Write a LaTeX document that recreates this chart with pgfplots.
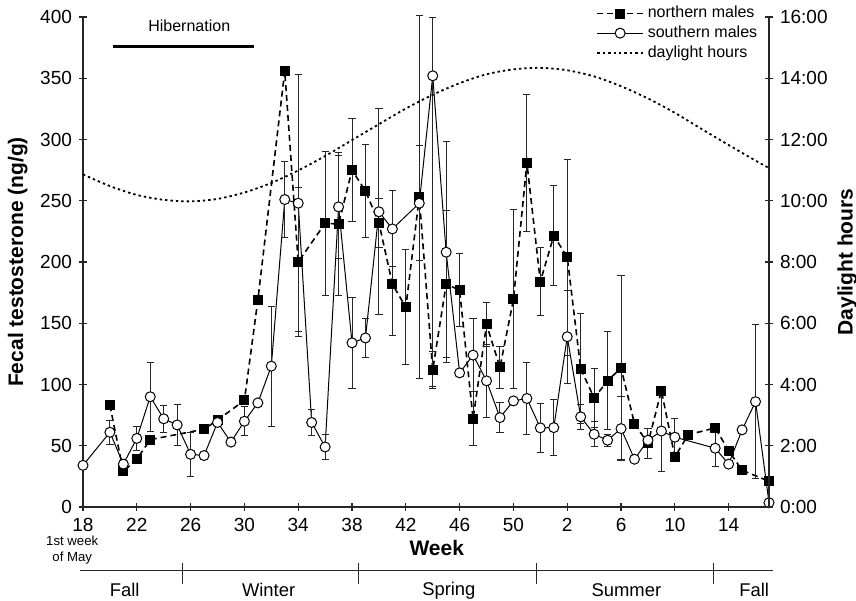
\documentclass[border=0pt]{standalone}
\usepackage{fontspec}
\setmainfont{Liberation Sans}
\usepackage{pgfplots}
\pgfplotsset{compat=1.18}

\begin{document}
\begin{tikzpicture}
\tikzset{season/.style={font=\fontsize{9.2}{11}\selectfont}}
\pgfplotsset{
  common/.style={
    scale only axis, width=343pt, height=245pt,
    xmin=18, xmax=69,
    clip=false,
    axis line style={-, black!85, line width=0.6pt},
    tick style={black!85, line width=0.6pt},
    tick align=center, major tick length=4pt,
    ticklabel style={font=\fontsize{9.5}{11}\selectfont},
    /pgf/number format/assume math mode=true,
    label style={font=\bfseries\fontsize{10.5}{12}\selectfont},
  },
  ebar/.style={error bars/.cd, y dir=both, y explicit,
    error bar style={solid, line width=0.5pt, black!85},
    error mark options={rotate=90, mark size=1.8pt, line width=0.5pt, black!85}},
}
% weeks 1-16 of the second year are plotted as 53-68
\begin{axis}[common,
  axis x line*=bottom, axis y line*=left,
  ymin=0, ymax=400, ytick={0,50,...,400},
  xtick={18,22,...,66},
  xticklabels={18,22,26,30,34,38,42,46,50,2,6,10,14},
  ylabel={Fecal testosterone (ng/g)},
  ylabel style={at={(axis description cs:-0.095,0.5)}, anchor=center},
  legend style={draw=none, fill=none, at={(axis description cs:0.745,1.035)},
    anchor=north west, font=\fontsize{8}{9.5}\selectfont, row sep=-1.5pt,
    inner sep=1pt, cells={anchor=west}},
  legend image code/.code={\draw[mark repeat=2,mark phase=2,#1]
    plot coordinates {(0cm,0cm) (0.4cm,0cm) (0.8cm,0cm)};},
]
% northern males
\addplot[black, line width=0.8pt, dash pattern=on 3pt off 2pt,
  mark=square*, mark size=2.1pt, mark options={solid, fill=black}, ebar]
coordinates {
(20,83) (21,29) (22,39) (23,55) (27,63.5) (28,71) (30,87) (31,169) (33,356)
(34,200) +- (0,61) (36,231.6) +- (0,59) (37,231) +- (0,58) (38,275) +- (0,42)
(39,258) +- (0,38) (40,232) +- (0,20) (41,182) +- (0,42) (42,163) +- (0,47)
(43,253) +- (0,148) (44,112) +- (0,15) (45,182) +- (0,60) (46,177) +- (0,30)
(47,72) +- (0,22) (48,149) +- (0,18) (49,114) +- (0,17) (50,169.5) +- (0,73)
(51,281) +- (0,56) (52,184) +- (0,28) (53,221.5) +- (0,41) (54,204) +- (0,80)
(55,113) +- (0,45) (56,89) +- (0,24) (57,103) +- (0,40) (58,113.6) +- (0,75)
(59,68) (60,52) +- (0,12) (61,95) (62,41) (63,59) (65,64.6) (66,46) (67,30) (69,21)
};
\addlegendentry{northern males}
% southern males
\addplot[black, line width=0.5pt,
  mark=*, mark size=2.5pt, mark options={solid, fill=white, draw=black}, ebar]
coordinates {
(18,34) (20,61) +- (0,10) (21,35) +- (0,3) (22,56) +- (0,10) (23,90) +- (0,28)
(24,72) +- (0,11) (25,67) +- (0,17) (26,43) +- (0,18) (27,42) (28,69) (29,53)
(30,70) +- (0,12) (31,85) (32,115) +- (0,49) (33,251) +- (0,31) (34,248) +- (0,105)
(35,69) +- (0,11) (36,49) +- (0,10) (37,245) +- (0,42) (38,134) +- (0,37)
(39,138) +- (0,16) (40,241) +- (0,84) (41,227) +- (0,31) (43,248) +- (0,47)
(44,352) += (0,48) -= (0,254) (45,208) +- (0,90) (46,109.5) (47,124) +- (0,30)
(48,103) +- (0,30) (49,73) +- (0,12) (50,86.6) (51,88.6) +- (0,29.5)
(52,64.6) +- (0,20) (53,64.8) +- (0,23) (54,139) +- (0,38) (55,73.6) +- (0,10)
(56,59.4) +- (0,10) (57,54.5) +- (0,5) (58,64) +- (0,26) (59,39) (60,54.5)
(61,62) +- (0,33) (62,57) +- (0,15) (65,48) +- (0,15) (66,35) +- (0,3) (67,63)
(68,86) +- (0,63) (69,3.5)
};
\addlegendentry{southern males}
\addlegendimage{black, line width=0.9pt, dash pattern=on 1.2pt off 1.5pt}
\addlegendentry{daylight hours}

% hibernation bar
\draw[line width=1.5pt] (axis cs:20.2,376) -- (axis cs:30.7,376);
\node[font=\fontsize{8}{9.5}\selectfont] at (axis cs:25.9,393) {Hibernation};

% x annotations
\node[font=\bfseries\fontsize{10.5}{12}\selectfont] at (axis cs:44.3,-33.5) {Week};
\node[font=\fontsize{6.6}{8}\selectfont, align=center] at (axis cs:17.2,-35) {1st week\\of May};

% seasons
\draw[black!85, line width=0.6pt] (axis cs:17.8,-52) -- (axis cs:69.3,-52);
\draw[black!85, line width=0.6pt] (axis cs:25.4,-45.5) -- (axis cs:25.4,-63);
\draw[black!85, line width=0.6pt] (axis cs:38.5,-45.5) -- (axis cs:38.5,-63);
\draw[black!85, line width=0.6pt] (axis cs:51.7,-45.5) -- (axis cs:51.7,-63);
\draw[black!85, line width=0.6pt] (axis cs:64.9,-45.5) -- (axis cs:64.9,-63);
\node[season] at (axis cs:21.1,-68) {Fall};
\node[season] at (axis cs:31.8,-68) {Winter};
\node[season] at (axis cs:45.2,-68) {Spring};
\node[season] at (axis cs:58.4,-68) {Summer};
\node[season] at (axis cs:67.9,-68) {Fall};
\end{axis}

\begin{axis}[common,
  axis x line=none, axis y line*=right,
  ymin=0, ymax=16, ytick={0,2,...,16},
  yticklabels={0:00,2:00,4:00,6:00,8:00,10:00,12:00,14:00,16:00},
  ylabel={Daylight hours},
  ylabel style={at={(axis description cs:1.114,0.5)}, anchor=center},
]
\addplot[black, line width=0.9pt, dash pattern=on 1.2pt off 1.5pt, smooth]
coordinates {
(18,10.86) (20,10.48) (22,10.19) (24,10.03) (26,9.98) (28,10.06) (30,10.27)
(32,10.58) (34,10.99) (36,11.46) (38,11.98) (40,12.50) (42,13.01) (44,13.46)
(46,13.84) (48,14.13) (50,14.29) (52,14.34) (54,14.26) (56,14.06) (58,13.74)
(60,13.34) (62,12.87) (64,12.34) (66,11.82) (68,11.31) (69,11.07)
};
\end{axis}

\pgfresetboundingbox
\path[use as bounding box] (-41.5pt,-46.5pt) rectangle (386.5pt,253.5pt);
\end{tikzpicture}
\end{document}
